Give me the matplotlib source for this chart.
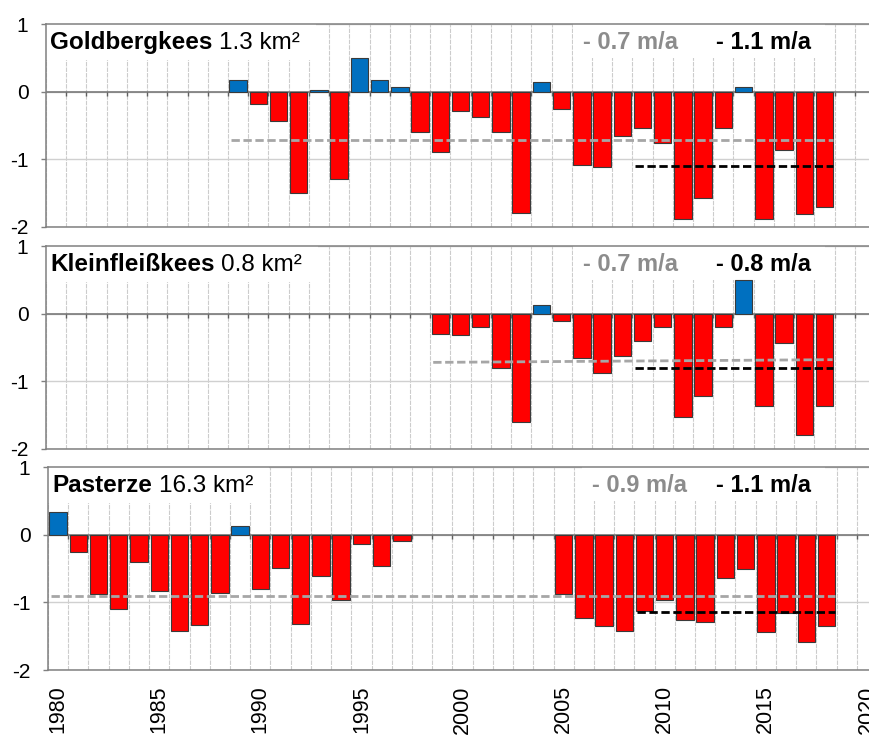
import numpy as np
import matplotlib.pyplot as plt
from matplotlib.patches import Rectangle

plt.rcParams['font.family'] = ['Liberation Sans', 'DejaVu Sans']
plt.rcParams['axes.unicode_minus'] = False

# annual mass balance (m w.e.) per glacier
glaciers = ['Goldbergkees', 'Kleinfleißkees', 'Pasterze']
areas = ['1.3 km²', '0.8 km²', '16.3 km²']

gold_years = list(range(1989, 2019))
gold_balance = [0.17, -0.18, -0.44, -1.50, 0.02, -1.29, 0.50, 0.17, 0.07, -0.60,
                -0.89, -0.28, -0.38, -0.60, -1.79, 0.15, -0.26, -1.08, -1.11, -0.65,
                -0.54, -0.76, -1.88, -1.57, -0.53, 0.07, -1.88, -0.86, -1.81, -1.70]

klein_years = list(range(1999, 2019))
klein_balance = [-0.30, -0.32, -0.19, -0.80, -1.60, 0.13, -0.11, -0.65, -0.88, -0.62,
                 -0.40, -0.20, -1.52, -1.21, -0.19, 0.50, -1.37, -0.43, -1.79, -1.37]

past_years = list(range(1980, 1998)) + list(range(2005, 2019))
past_balance = [0.33, -0.25, -0.87, -1.10, -0.40, -0.83, -1.42, -1.34, -0.86, 0.13,
                -0.80, -0.49, -1.32, -0.61, -0.96, -0.14, -0.47, -0.10,
                -0.88, -1.23, -1.35, -1.42, -1.13, -0.97, -1.26, -1.29, -0.64, -0.50,
                -1.44, -1.16, -1.59, -1.35]

all_years = [gold_years, klein_years, past_years]
all_balance = [gold_balance, klein_balance, past_balance]

# mean over the whole record (start, end value) and over 2009-2018
mean_all = [(-0.71, -0.71), (-0.72, -0.68), (-0.90, -0.90)]
mean_recent = [-1.10, -0.80, -1.14]
recent_start = 2009

POS = '#0070c0'
NEG = '#ff0000'
FRAME = '#808080'

W, H = 869, 738
fig = plt.figure(figsize=(W / 100, H / 100), dpi=100)
renderer = fig.canvas.get_renderer()

# panel placement in pixels
lefts = [46, 46, 48]
tops = [24, 246, 467]
grey_x = [583, 583, 592]
black_x = 716
px_year = 20.22
ax_w = 41 * px_year
ax_h = 203


def to_axes(ax, x, y):
    return ax.transAxes.inverted().transform((x, y))


for i in range(3):
    ax = fig.add_axes([lefts[i] / W, 1 - (tops[i] + ax_h) / H, ax_w / W, ax_h / H])
    years = np.array(all_years[i])
    vals = np.array(all_balance[i])

    ax.set_xlim(1979.5, 2020.5)
    ax.set_ylim(-2, 1)
    ax.set_yticks([1, 0, -1, -2])
    ax.set_xticks(range(1980, 2021, 5))
    bounds = np.arange(1979.5, 2020.5)
    ax.set_xticks(bounds, minor=True)
    ax.set_axisbelow(True)
    ax.grid(which='minor', axis='x', color='#cccccc', lw=0.8, ls=(0, (4, 1)))
    ax.grid(which='major', axis='y', color='#d0d0d0', lw=1.0)
    ax.tick_params(axis='x', which='both', length=0)
    ax.tick_params(axis='y', length=3.6, width=1, color=FRAME, pad=9, labelsize=15)
    if i == 2:
        ax.tick_params(axis='x', labelsize=15.5, labelrotation=90, pad=11)
    else:
        ax.tick_params(axis='x', labelbottom=False)
    ax.spines['right'].set_visible(False)
    for side in ['top', 'bottom', 'left']:
        ax.spines[side].set_color(FRAME)
        ax.spines[side].set_linewidth(1.1)

    # zero line with small ticks between the years
    ax.axhline(0, color='#7a7a7a', lw=1.2, zorder=1.6)
    ax.vlines(bounds[1:], -0.07, 0, color='#606060', lw=1, zorder=1.6)

    colors = [POS if v >= 0 else NEG for v in vals]
    ax.bar(years, vals, width=0.86, color=colors, edgecolor='#3a3a3a', lw=0.8, zorder=2)

    # mean lines
    x0 = years[0] - 0.35
    x1 = years[-1] + 0.4
    ax.plot([x0, x1], mean_all[i], color='#a6a6a6', lw=2, dashes=(3, 1.3), zorder=3)
    ax.plot([recent_start - 0.35, x1], [mean_recent[i]] * 2, color='black', lw=2,
            dashes=(3, 1.3), zorder=3)

    # labels in the top corners
    base_y = 1 - 25 / ax_h
    name = ax.text(4 / ax_w, base_y, glaciers[i], transform=ax.transAxes,
                   fontsize=17.5, fontweight='bold', va='baseline', zorder=4)
    area = ax.annotate(areas[i], xy=(1, 0), xycoords=name, xytext=(5, 0),
                       textcoords='offset points', fontsize=17.5, va='bottom', zorder=4)
    grey_val = np.mean(mean_all[i])
    grey = ax.text((grey_x[i] - lefts[i]) / ax_w, base_y, f'- {abs(grey_val):.1f} m/a',
                   transform=ax.transAxes, fontsize=17, fontweight='bold',
                   color='#8c8c8c', va='baseline', zorder=4)
    black = ax.text((black_x - lefts[i]) / ax_w, base_y, f'- {abs(mean_recent[i]):.1f} m/a',
                    transform=ax.transAxes, fontsize=17, fontweight='bold',
                    color='black', va='baseline', zorder=4)

    # white backgrounds behind the labels, hiding the grid
    bb_area = area.get_window_extent(renderer)
    bx1, _ = to_axes(ax, bb_area.x1 + 16, 0)
    ax.add_patch(Rectangle((0, 1 - 36 / ax_h), bx1, 36 / ax_h, transform=ax.transAxes,
                           facecolor='white', edgecolor='none', zorder=1))
    bb_g = grey.get_window_extent(renderer)
    bb_b = black.get_window_extent(renderer)
    rx0, _ = to_axes(ax, bb_g.x0 - 10, 0)
    rx1, _ = to_axes(ax, bb_b.x1 + 14, 0)
    ax.add_patch(Rectangle((rx0, 1 - 34 / ax_h), rx1 - rx0, 34 / ax_h, transform=ax.transAxes,
                           facecolor='white', edgecolor='none', zorder=1))

fig.savefig('out.png', dpi=100)
